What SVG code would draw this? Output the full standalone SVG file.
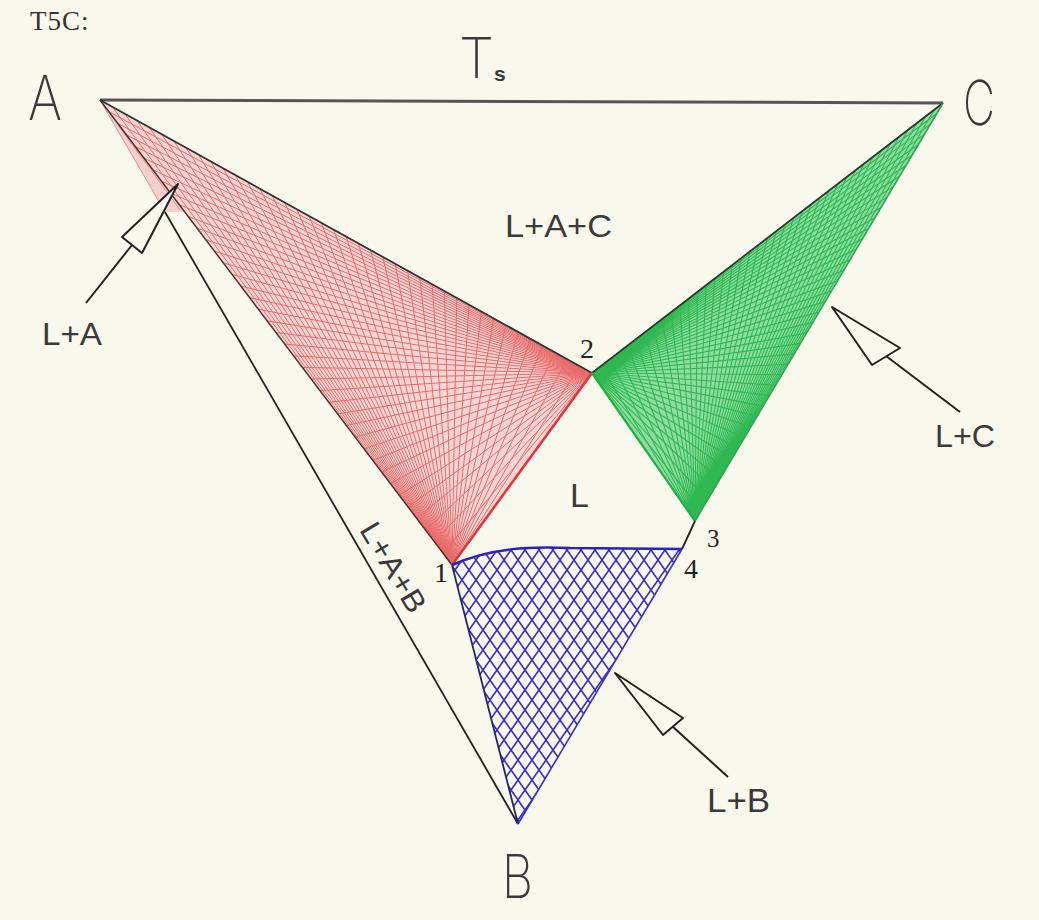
<svg xmlns="http://www.w3.org/2000/svg" width="1039" height="920" viewBox="0 0 1039 920">
<defs>
<style>
.big{font-family:Inter,Lato,"Liberation Sans",sans-serif;font-weight:200;fill:#3a3a3a}
.lbl{font-family:"Liberation Sans",Arial,sans-serif;fill:#3a3a3a}
.num{font-family:"Liberation Serif","Times New Roman",serif;fill:#222}
.arrow{fill:#f8f8ed;stroke:#222;stroke-width:2;stroke-linejoin:round}
.stem{stroke:#222;stroke-width:2;fill:none}
</style>
<pattern id="blueHatch" patternUnits="userSpaceOnUse" width="14" height="20">
<path d="M-1 -1.43L15 21.43M15 -1.43L-1 21.43" stroke="#3b30c8" stroke-width="1.6"/>
</pattern>
<clipPath id="blueClip"><path d="M452 565C490 548 530 546 570 548L682 549L518 824Z"/></clipPath>
</defs>
<rect width="1039" height="920" fill="#f8f8ed"/>
<g id="pink-region">
<polygon points="100,100 592,373 452,565" fill="#f6d6d2"/>
<polygon points="100,100 165,212 185,212" fill="#f4cfcb"/>
<path stroke="#e86a6a" stroke-width="1" fill="none" d="M100 100L592 373M108.8 111.6L592 373M117.6 123.3L592 373M126.4 134.9L592 373M135.2 146.5L592 373M144 158.1L592 373M152.8 169.8L592 373M161.6 181.4L592 373M170.4 193L592 373M179.2 204.6L592 373M188 216.3L592 373M196.8 227.9L592 373M205.6 239.5L592 373M214.4 251.1L592 373M223.2 262.8L592 373M232 274.4L592 373M240.8 286L592 373M249.6 297.6L592 373M258.4 309.3L592 373M267.2 320.9L592 373M276 332.5L592 373M284.8 344.1L592 373M293.6 355.8L592 373M302.4 367.4L592 373M311.2 379L592 373M320 390.6L592 373M328.8 402.3L592 373M337.6 413.9L592 373M346.4 425.5L592 373M355.2 437.1L592 373M364 448.8L592 373M372.8 460.4L592 373M381.6 472L592 373M390.4 483.6L592 373M399.2 495.3L592 373M408 506.9L592 373M416.8 518.5L592 373M425.6 530.1L592 373M434.4 541.8L592 373M443.2 553.4L592 373"/>
<path stroke="#e86a6a" stroke-width="1" fill="none" d="M112.3 106.8L452 565M124.6 113.7L452 565M136.9 120.5L452 565M149.2 127.3L452 565M161.5 134.1L452 565M173.8 141L452 565M186.1 147.8L452 565M198.4 154.6L452 565M210.7 161.4L452 565M223 168.3L452 565M235.3 175.1L452 565M247.6 181.9L452 565M259.9 188.7L452 565M272.2 195.6L452 565M284.5 202.4L452 565M296.8 209.2L452 565M309.1 216L452 565M321.4 222.9L452 565M333.7 229.7L452 565M346 236.5L452 565M358.3 243.3L452 565M370.6 250.2L452 565M382.9 257L452 565M395.2 263.8L452 565M407.5 270.6L452 565M419.8 277.5L452 565M432.1 284.3L452 565M444.4 291.1L452 565M456.7 297.9L452 565M469 304.8L452 565M481.3 311.6L452 565M493.6 318.4L452 565M505.9 325.2L452 565M518.2 332.1L452 565M530.5 338.9L452 565M542.8 345.7L452 565M555.1 352.5L452 565M567.4 359.4L452 565M579.7 366.2L452 565"/>
<path d="M100 100L165 212M118 125L180 210" stroke="#e89090" stroke-width="1" fill="none"/>
</g>
<g id="green-region">
<polygon points="943,103 592,373 695,521" fill="#8fdca0"/>
<path stroke="#2fb852" stroke-width="1.1" fill="none" d="M943 103L592 373M936.8 113.5L592 373M930.6 123.9L592 373M924.4 134.4L592 373M918.2 144.8L592 373M912 155.3L592 373M905.8 165.7L592 373M899.6 176.2L592 373M893.4 186.6L592 373M887.2 197.1L592 373M881 207.5L592 373M874.8 218L592 373M868.6 228.4L592 373M862.4 238.9L592 373M856.2 249.3L592 373M850 259.8L592 373M843.8 270.2L592 373M837.6 280.7L592 373M831.4 291.1L592 373M825.2 301.6L592 373M819 312L592 373M812.8 322.5L592 373M806.6 332.9L592 373M800.4 343.4L592 373M794.2 353.8L592 373M788 364.3L592 373M781.8 374.7L592 373M775.6 385.2L592 373M769.4 395.6L592 373M763.2 406.1L592 373M757 416.5L592 373M750.8 427L592 373M744.6 437.4L592 373M738.4 447.9L592 373M732.2 458.3L592 373M726 468.8L592 373M719.8 479.2L592 373M713.6 489.7L592 373M707.4 500.1L592 373M701.2 510.6L592 373"/>
<path stroke="#2fb852" stroke-width="1.1" fill="none" d="M934.2 109.8L695 521M925.5 116.5L695 521M916.7 123.3L695 521M907.9 130L695 521M899.1 136.8L695 521M890.4 143.5L695 521M881.6 150.3L695 521M872.8 157L695 521M864 163.8L695 521M855.3 170.5L695 521M846.5 177.3L695 521M837.7 184L695 521M828.9 190.8L695 521M820.2 197.5L695 521M811.4 204.3L695 521M802.6 211L695 521M793.8 217.8L695 521M785.1 224.5L695 521M776.3 231.3L695 521M767.5 238L695 521M758.7 244.8L695 521M750 251.5L695 521M741.2 258.3L695 521M732.4 265L695 521M723.6 271.8L695 521M714.9 278.5L695 521M706.1 285.3L695 521M697.3 292L695 521M688.5 298.8L695 521M679.8 305.5L695 521M671 312.3L695 521M662.2 319L695 521M653.4 325.8L695 521M644.7 332.5L695 521M635.9 339.3L695 521M627.1 346L695 521M618.3 352.8L695 521M609.6 359.5L695 521M600.8 366.3L695 521"/>
</g>
<g id="blue-region">
<rect x="440" y="540" width="250" height="290" fill="url(#blueHatch)" clip-path="url(#blueClip)"/>
</g>
<g id="connectors">
<path d="M100 100L943 103" stroke="#555" stroke-width="3" fill="none"/>
<path d="M165 212L518 824" stroke="#222" stroke-width="1.8" fill="none"/>
<path d="M100 100L592 373L943 103" stroke="#333" stroke-width="1.8" fill="none"/>
<path d="M100 100L452 565" stroke="#4a3030" stroke-width="1.5" fill="none"/>
<path d="M452 565L592 373" stroke="#e8303a" stroke-width="2.5" fill="none"/>
<path d="M592 373L695 521" stroke="#20b040" stroke-width="2.2" fill="none"/>
<path d="M943 103L695 521" stroke="#2aa84a" stroke-width="1.6" fill="none"/>
<path d="M695 521L682 549" stroke="#222" stroke-width="1.8" fill="none"/>
<path d="M452 565L518 824" stroke="#2a2560" stroke-width="1.8" fill="none"/>
<path d="M682 549L518 824" stroke="#3a30c0" stroke-width="1.6" fill="none"/>
<path d="M452 565C490 548 530 546 570 548L682 549" stroke="#2a20c8" stroke-width="2.5" fill="none"/>
</g>
<g id="arrow-LA">
<path class="stem" d="M132 245L86 303"/>
<polygon class="arrow" points="178,184 122,237 142,253"/>
</g>
<g id="arrow-LC">
<path class="stem" d="M886 356L960 412"/>
<polygon class="arrow" points="832,307 872,365 900,348"/>
</g>
<g id="arrow-LB">
<path class="stem" d="M672 726L728 777"/>
<polygon class="arrow" points="615,673 663,735 683,718"/>
</g>
<g id="labels">
<text x="30" y="30" class="num" font-size="27" style="fill:#333" letter-spacing="1">T5C:</text>
<text x="28" y="120" class="big" font-size="62" textLength="34" lengthAdjust="spacingAndGlyphs">A</text>
<text x="963" y="125" class="big" font-size="62" textLength="32" lengthAdjust="spacingAndGlyphs">C</text>
<text x="502" y="898" class="big" font-size="60" textLength="31" lengthAdjust="spacingAndGlyphs">B</text>
<text x="459" y="78" class="big" font-size="56">T<tspan dx="0" dy="3" font-family="Liberation Sans, Arial, sans-serif" font-size="21" font-weight="bold">s</tspan></text>
<text x="505" y="237" class="lbl" font-size="32" textLength="107" lengthAdjust="spacingAndGlyphs">L+A+C</text>
<text x="42" y="345" class="lbl" font-size="31" textLength="60" lengthAdjust="spacingAndGlyphs">L+A</text>
<text x="935" y="447" class="lbl" font-size="32" textLength="60" lengthAdjust="spacingAndGlyphs">L+C</text>
<text x="707" y="812" class="lbl" font-size="33" textLength="63" lengthAdjust="spacingAndGlyphs">L+B</text>
<text x="570" y="507" class="lbl" font-size="34">L</text>
<text transform="translate(394,567) rotate(59)" x="0" y="11" class="lbl" font-size="30" text-anchor="middle" textLength="100" lengthAdjust="spacingAndGlyphs">L+A+B</text>
<text x="580" y="358" class="num" font-size="28">2</text>
<text x="707" y="547" class="num" font-size="25">3</text>
<text x="684" y="578" class="num" font-size="28">4</text>
<text x="434" y="582" class="num" font-size="28">1</text>
</g>
</svg>
